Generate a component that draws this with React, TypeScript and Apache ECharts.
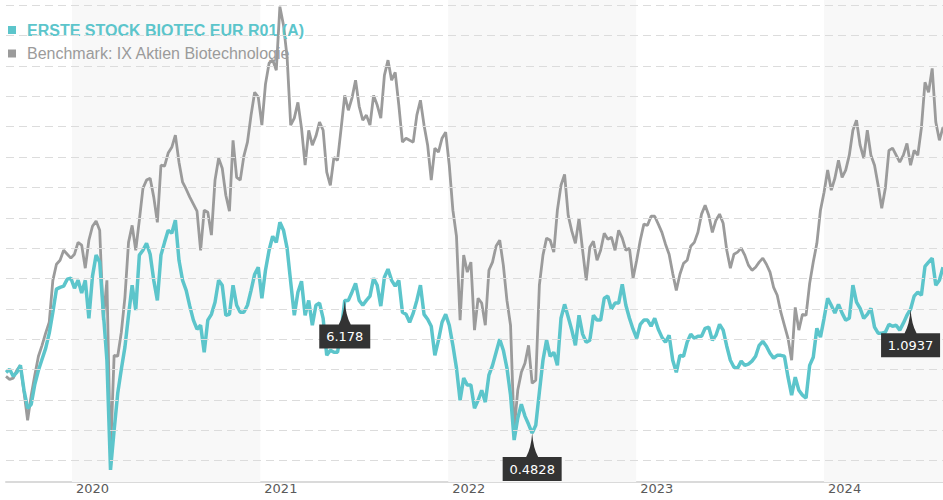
import React, { useEffect, useRef } from "react";
import * as echarts from "echarts";

const seriesNames = ["ERSTE STOCK BIOTEC EUR R01 (A)", "Benchmark: IX Aktien Biotechnologie"];

// weekly observations starting 2019-08-26
const startDate = [2019, 7, 26];

const fundValues = [
  29.1, 30.1, 27.8, 29.1, 31.4, 23.2, 17.3, 18.6, 25.2, 29.8,
  33.4, 37.0, 42.0, 48.9, 56.5, 57.1, 57.5, 59.8, 60.1, 56.8,
  59.4, 55.2, 59.4, 46.9, 60.8, 67.7, 65.4, 48.9, 33.1, -3.0,
  10.0, 22.2, 30.1, 37.4, 47.9, 57.8, 49.6, 67.7, 69.3, 71.6,
  68.0, 59.4, 52.8, 67.7, 71.9, 75.9, 74.9, 79.2, 66.0, 59.4,
  56.1, 50.9, 46.3, 43.3, 44.6, 35.7, 46.3, 48.2, 52.2, 59.4,
  57.8, 47.9, 48.2, 57.8, 51.2, 48.9, 48.9, 51.2, 56.1, 61.4,
  63.7, 53.5, 62.7, 69.3, 73.9, 71.9, 78.5, 75.9, 70.0, 58.8,
  47.9, 55.5, 59.1, 47.9, 52.8, 44.6, 51.2, 51.9, 46.9, 34.7,
  36.4, 35.7, 35.7, 43.0, 52.8, 52.8, 55.5, 58.4, 52.8, 51.2,
  52.8, 54.2, 60.1, 57.8, 50.9, 60.4, 63.1, 59.4, 57.5, 59.4,
  48.9, 48.2, 45.6, 48.6, 52.8, 57.8, 48.2, 46.6, 44.3, 34.7,
  39.7, 45.6, 48.2, 44.6, 38.0, 30.5, 19.9, 27.2, 24.9, 24.9,
  17.3, 19.9, 23.2, 19.3, 28.2, 31.4, 35.7, 40.0, 36.4, 30.5,
  21.6, 6.8, 14.0, 18.6, 14.7, 12.0, 9.1, 11.7, 22.6, 33.1,
  39.7, 34.4, 35.7, 31.4, 46.9, 51.5, 47.3, 43.0, 38.0, 47.9,
  41.7, 39.0, 39.7, 47.9, 46.3, 46.3, 53.5, 54.2, 49.9, 51.9,
  51.9, 58.1, 51.2, 46.9, 43.3, 40.3, 44.9, 46.3, 46.3, 44.3,
  46.9, 43.3, 40.7, 39.0, 41.3, 33.1, 29.1, 34.7, 34.4, 39.0,
  41.7, 40.3, 41.0, 41.0, 43.6, 44.0, 39.7, 41.3, 44.9, 43.0,
  37.7, 33.1, 30.8, 30.5, 32.8, 31.4, 31.8, 32.8, 34.4, 38.0,
  39.3, 37.7, 35.4, 33.8, 34.7, 34.7, 34.4, 27.5, 21.6, 27.5,
  23.2, 21.6, 20.6, 31.4, 34.1, 43.6, 40.7, 46.9, 53.5, 51.2,
  48.6, 51.5, 48.6, 46.3, 46.9, 57.8, 52.2, 50.2, 46.9, 48.2,
  50.2, 44.0, 42.0, 42.0, 42.3, 44.9, 44.3, 44.6, 43.0, 45.3,
  47.9, 49.9, 54.2, 55.5, 54.5, 64.0, 65.4, 66.7, 57.8, 59.4,
  63.7,
];

const benchmarkValues = [
  27.8, 26.8, 27.2, 29.8, 31.4, 22.6, 13.3, 21.6, 28.2, 34.4,
  38.0, 42.0, 45.6, 59.4, 64.7, 66.0, 69.3, 68.0, 66.7, 68.0,
  71.9, 71.0, 63.4, 72.6, 77.2, 78.9, 75.9, 46.3, 59.4, 1.8,
  34.7, 34.4, 42.3, 53.8, 71.9, 77.5, 69.3, 79.2, 89.7, 92.4,
  93.0, 86.8, 78.5, 97.3, 97.0, 101.3, 103.2, 107.2, 98.3, 91.7,
  89.4, 86.8, 84.5, 82.2, 69.3, 82.5, 81.8, 74.3, 92.4, 99.6,
  96.3, 87.4, 82.2, 105.5, 93.3, 92.4, 100.3, 104.9, 113.8, 121.3,
  119.7, 110.5, 124.0, 130.9, 131.9, 128.6, 149.5, 143.4, 132.9, 110.5,
  112.8, 118.0, 109.5, 97.3, 108.8, 103.9, 106.9, 111.5, 108.8, 95.0,
  90.7, 99.9, 98.9, 109.5, 120.3, 115.4, 119.4, 125.3, 116.7, 112.1,
  113.8, 110.5, 120.3, 117.1, 112.8, 126.9, 131.9, 125.3, 127.9, 117.1,
  104.9, 106.2, 105.5, 104.9, 113.8, 118.7, 110.5, 103.9, 92.4, 102.9,
  101.6, 106.2, 108.2, 97.3, 82.5, 73.9, 46.3, 67.7, 62.1, 65.4,
  43.0, 53.5, 51.9, 44.6, 62.7, 65.4, 70.7, 72.6, 64.4, 52.8,
  44.6, 10.0, 23.2, 29.1, 32.1, 38.0, 25.5, 26.5, 57.8, 67.7,
  73.3, 72.6, 68.7, 82.5, 90.7, 94.3, 80.8, 75.6, 71.6, 79.8,
  69.3, 59.4, 70.3, 72.3, 66.0, 69.3, 74.9, 72.9, 73.6, 69.3,
  75.9, 73.3, 69.3, 70.0, 60.1, 66.0, 72.6, 77.9, 77.5, 80.5,
  80.5, 77.9, 75.2, 71.3, 68.0, 61.7, 56.1, 61.4, 65.0, 66.0,
  70.6, 71.9, 75.2, 81.2, 84.1, 80.8, 75.2, 79.2, 81.2, 78.2,
  69.3, 63.4, 68.0, 68.7, 70.0, 67.7, 64.4, 62.7, 63.7, 65.4,
  66.7, 64.7, 62.1, 57.1, 54.5, 48.9, 44.6, 40.3, 33.1, 50.5,
  43.0, 48.2, 47.9, 58.4, 65.4, 71.6, 82.5, 88.4, 95.7, 89.1,
  93.0, 98.9, 93.3, 95.7, 100.6, 108.8, 112.1, 103.9, 99.6, 108.8,
  100.6, 97.3, 90.7, 83.1, 89.7, 102.2, 102.9, 100.6, 98.3, 100.6,
  104.5, 97.3, 102.2, 100.6, 109.5, 124.6, 121.3, 129.2, 111.5, 105.5,
  109.8,
];

const gridValues = [0, 10, 20, 30, 40, 50, 60, 70, 80, 90, 100, 110, 120, 130, 140, 150];
const shadedYears = [2020, 2022, 2024];
const callouts = [
  { index: 94, label: "6.178" },
  { index: 146, label: "0.4828" },
  { index: 251, label: "1.0937" },
];

const TEAL = "#5cc5cb";
const GREY = "#9b9b9b";

function calloutPath(w: number): string {
  const c = w / 2;
  return `path://M${c} 0 Q${c + 1} 15 ${c + 6} 24 L${w} 24 L${w} 48 L0 48 L0 24 L${c - 6} 24 Q${c - 1} 15 ${c} 0 Z`;
}

export default function App() {
  const ref = useRef<HTMLDivElement>(null);
  useEffect(() => {
    if (!ref.current) return;
    const chart = echarts.init(ref.current, null, { renderer: "svg" });
    const dates = fundValues.map((_, i) => new Date(startDate[0], startDate[1], startDate[2] + 7 * i).getTime());
    const minT = dates[0];
    const maxT = dates[dates.length - 1];

    const bands = shadedYears.map((y) => [
      { xAxis: new Date(y, 0, 1).getTime() },
      { xAxis: Math.min(new Date(y + 1, 0, 1).getTime(), maxT) },
    ]);

    const markPoints = callouts.map((c) => {
      const digits = c.label.replace(".", "").length;
      const w = Math.round(digits * 8.27 + 4.1 + 14);
      return {
        coord: [dates[c.index], fundValues[c.index]],
        value: c.label,
        symbol: calloutPath(w),
        symbolSize: [w, 48],
        symbolOffset: [0, 24],
      };
    });

    chart.setOption({
      animation: false,
      grid: { left: 6, right: 0, top: 0, bottom: 18 },
      legend: {
        left: 8,
        top: 22,
        padding: 0,
        orient: "vertical",
        icon: "rect",
        itemWidth: 8,
        itemHeight: 8,
        itemGap: 7.5,
        selectedMode: false,
        textStyle: { fontFamily: "Liberation Sans", fontSize: 16, lineHeight: 16, padding: [0, 0, 0, 6] },
        data: [
          { name: seriesNames[0], textStyle: { color: TEAL, fontWeight: "bold" } },
          { name: seriesNames[1], textStyle: { color: GREY } },
        ],
      },
      xAxis: {
        type: "time",
        min: minT,
        max: maxT,
        splitNumber: 5,
        axisLine: { show: true, onZero: false, lineStyle: { color: "#dadada", width: 2 } },
        axisTick: { show: false },
        splitLine: { show: false },
        axisLabel: {
          hideOverlap: false,
          align: "left",
          padding: [0, 0, 0, 4],
          margin: 0,
          color: "#5a5a5a",
          fontFamily: "DejaVu Sans",
          fontSize: 13,
          formatter: (v: number) => {
            const d = new Date(v);
            return d.getMonth() === 0 && d.getDate() === 1 ? String(d.getFullYear()) : "";
          },
        },
      },
      yAxis: { type: "value", min: -7, max: 151.7, show: false },
      series: [
        {
          type: "line",
          data: [],
          z: 1,
          silent: true,
          markArea: { silent: true, itemStyle: { color: "#f8f8f8" }, data: bands },
          markLine: {
            silent: true,
            symbol: "none",
            label: { show: false },
            lineStyle: { color: "#dcdcdc", type: [8, 5], width: 1 },
            data: gridValues.map((v) => ({ yAxis: v })),
          },
        },
        {
          name: seriesNames[1],
          type: "line",
          data: benchmarkValues.map((v, i) => [dates[i], v]),
          symbol: "none",
          z: 2,
          silent: true,
          lineStyle: { color: GREY, width: 2.8 },
          itemStyle: { color: GREY },
        },
        {
          name: seriesNames[0],
          type: "line",
          data: fundValues.map((v, i) => [dates[i], v]),
          symbol: "none",
          z: 3,
          silent: true,
          lineStyle: { color: TEAL, width: 3.5 },
          itemStyle: { color: TEAL },
          markPoint: {
            silent: true,
            itemStyle: { color: "#333333" },
            label: {
              show: true,
              position: "inside",
              offset: [0, 12],
              color: "#ffffff",
              fontFamily: "DejaVu Sans",
              fontSize: 13,
              formatter: "{c}",
            },
            data: markPoints,
          },
        },
      ],
    });
    return () => chart.dispose();
  }, []);
  return <div ref={ref} style={{ position: "absolute", left: 0, top: 0, width: 943, height: 500 }} />;
}
